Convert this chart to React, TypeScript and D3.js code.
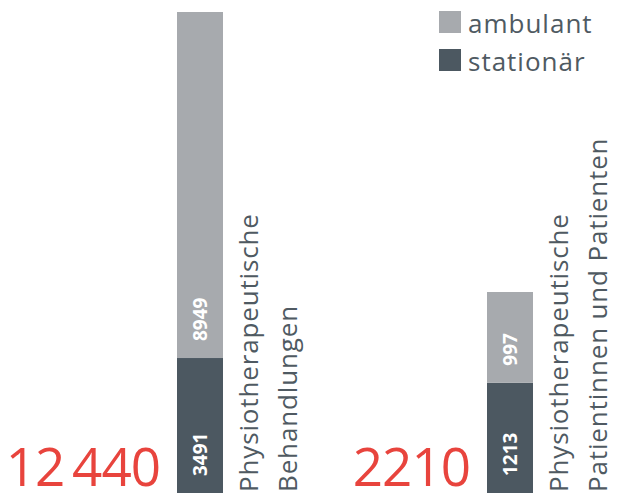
import { useEffect, useRef } from "react";
import * as d3 from "d3";

// Data
const categories = ["Behandlungen", "Patienten"];
const totals = ["12\u2009440", "2210"];
const labelLine1 = ["Physiotherapeutische", "Physiotherapeutische"];
const labelLine2 = ["Behandlungen", "Patientinnen und Patienten"];
const stationaer = [3491, 1213];
const ambulant = [8949, 997];
const seriesNames = ["ambulant", "stationär"];

const COL_AMB = "#a7aaae";
const COL_STAT = "#4c5861";
const RED = "#e8443d";
const TEXT = "#4f5a62";

export default function App() {
  const svgRef = useRef<SVGSVGElement>(null);

  useEffect(() => {
    if (!svgRef.current) return;
    const svg = d3.select(svgRef.current);
    svg.selectAll("*").remove();

    const baseY = 493;
    const barW = 46;
    // each bar has its own scale (different units in the original)
    const barHeights = [481, 201];

    const x = d3.scalePoint<string>().domain(categories).range([177, 487]);

    const font = "'Open Sans', 'Noto Sans', sans-serif";

    categories.forEach((cat, i) => {
      const total = stationaer[i] + ambulant[i];
      const y = d3
        .scaleLinear()
        .domain([0, total])
        .range([baseY, baseY - barHeights[i]]);
      const x0 = x(cat)!;
      const g = svg.append("g");

      const segs = [
        { v0: 0, v1: stationaer[i], color: COL_STAT },
        { v0: stationaer[i], v1: total, color: COL_AMB },
      ];
      segs.forEach((s) => {
        g.append("rect")
          .attr("x", x0)
          .attr("y", y(s.v1))
          .attr("width", barW)
          .attr("height", y(s.v0) - y(s.v1))
          .attr("fill", s.color);
        g.append("text")
          .attr("transform", `translate(${x0 + barW / 2},${y(s.v0) - 17}) rotate(-90)`)
          .attr("dy", "0.36em")
          .attr("fill", "#fff")
          .attr("font-family", font)
          .attr("font-weight", 700)
          .attr("font-size", 19)
          .text(s.v1 - s.v0);
      });

      // rotated category label
      const lab = g
        .append("g")
        .attr("transform", `translate(${x0 + barW + 35},492) rotate(-90)`)
        .attr("fill", TEXT)
        .attr("font-family", font)
        .attr("font-weight", 400)
        .attr("font-size", 26)
        .attr("letter-spacing", 0.85);
      lab.append("text").attr("x", 0).attr("y", 0).text(labelLine1[i]);
      lab.append("text").attr("x", 0).attr("y", 39).text(labelLine2[i]);

      // big total
      g.append("text")
        .attr("x", x0 - 17)
        .attr("y", 486)
        .attr("text-anchor", "end")
        .attr("fill", RED)
        .attr("font-family", font)
        .attr("font-size", 53)
        .attr("letter-spacing", -1)
        .text(totals[i]);
    });

    // legend
    const legend = svg.append("g").attr("transform", "translate(439,11)");
    const legendColors = [COL_AMB, COL_STAT];
    seriesNames.forEach((name, i) => {
      const row = legend.append("g").attr("transform", `translate(0,${i * 38})`);
      row.append("rect").attr("width", 22).attr("height", 22).attr("fill", legendColors[i]);
      row.append("text")
        .attr("x", 29)
        .attr("y", 22)
        .attr("fill", TEXT)
        .attr("font-family", font)
        .attr("font-weight", 400)
        .attr("font-size", 26)
        .attr("letter-spacing", 1)
        .text(name);
    });
  }, []);

  return (
    <svg
      ref={svgRef}
      width={619}
      height={493}
      style={{ position: "absolute", left: 0, top: 0, display: "block" }}
    />
  );
}
